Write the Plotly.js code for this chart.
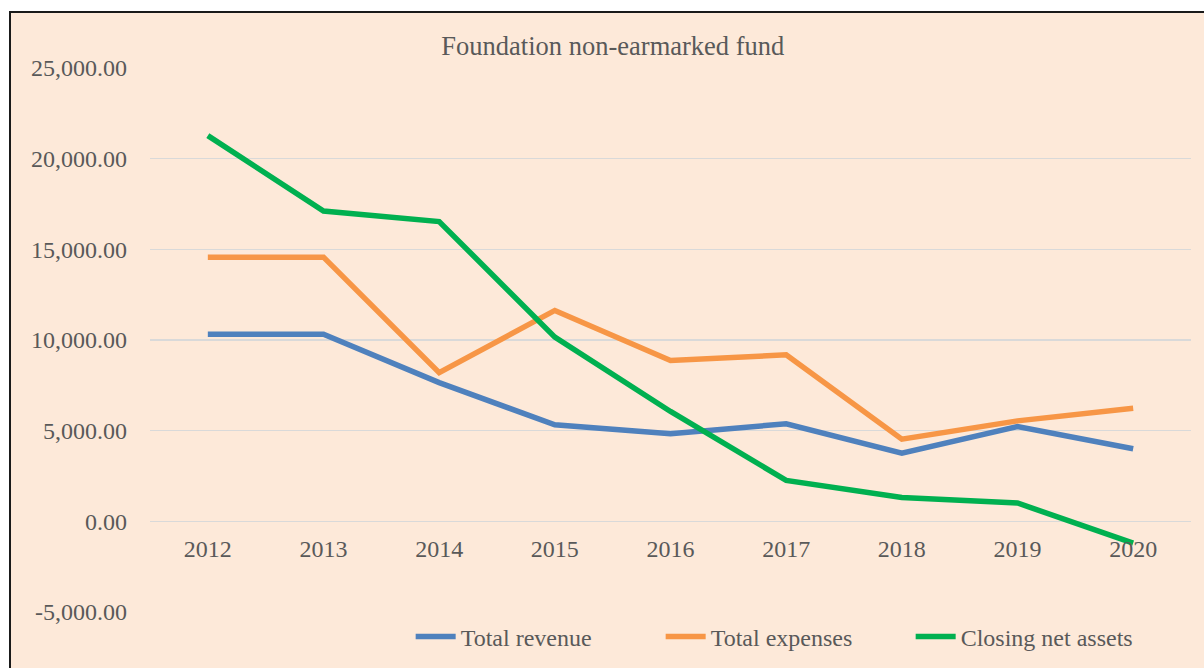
<!DOCTYPE html>
<html>
<head>
<meta charset="utf-8">
<script src="https://cdn.plot.ly/plotly-3.0.1.min.js"></script>
<style>
html,body{margin:0;padding:0;background:#ffffff;}
#chart{width:1204px;height:668px;}
</style>
</head>
<body>
<div id="chart"></div>
<script>
const years = ['2012','2013','2014','2015','2016','2017','2018','2019','2020'];
const totalRevenue = [10320, 10320, 7650, 5320, 4830, 5380, 3760, 5230, 4000];
const totalExpenses = [14570, 14570, 8200, 11630, 8870, 9180, 4530, 5540, 6240];
const closingNetAssets = [21270, 17110, 16530, 10160, 6060, 2260, 1320, 1010, -1200];
const seriesNames = ['Total revenue', 'Total expenses', 'Closing net assets'];
const yTickVals = [-5000, 0, 5000, 10000, 15000, 20000, 25000];
const yTickText = ['-5,000.00', '0.00', '5,000.00', '10,000.00', '15,000.00', '20,000.00', '25,000.00'];

const fontFam = '"Liberation Serif", "Times New Roman", serif';
const textColor = '#595959';

const mk = (y, name, color) => ({
  x: years, y: y, name: name, type: 'scatter', mode: 'lines',
  line: {color: color, width: 5.5}
});

const data = [
  mk(totalRevenue, seriesNames[0], '#4F81BD'),
  mk(totalExpenses, seriesNames[1], '#F79646'),
  mk(closingNetAssets, seriesNames[2], '#00B050')
];

const layout = {
  width: 1204, height: 668,
  margin: {l: 150, r: 13, t: 68, b: 56, autoexpand: false},
  paper_bgcolor: '#ffffff',
  plot_bgcolor: 'rgba(0,0,0,0)',
  font: {family: fontFam, color: textColor, size: 24},
  title: {text: 'Foundation non-earmarked fund', x: 0.509, xanchor: 'center', y: 0.931, yanchor: 'middle',
          font: {family: fontFam, size: 26.5, color: textColor}},
  xaxis: {
    type: 'category', range: [-0.5, 8.5],
    anchor: 'free', position: 1/6,
    showgrid: false, zeroline: false, showline: false,
    ticks: '', ticklabelstandoff: 11,
    tickfont: {family: fontFam, size: 24, color: textColor}
  },
  yaxis: {
    range: [-5000, 25000], tickvals: yTickVals, ticktext: yTickText,
    showgrid: true, gridcolor: '#D9D9D9', gridwidth: 1.5,
    zeroline: true, zerolinecolor: '#D9D9D9', zerolinewidth: 1.5,
    showline: false, ticks: '', ticklabelstandoff: 22,
    tickfont: {family: fontFam, size: 24, color: textColor}
  },
  showlegend: true,
  legend: {
    orientation: 'h', x: 0.2504, xanchor: 'left', y: -0.046, yanchor: 'middle',
    bgcolor: 'rgba(0,0,0,0)', font: {family: fontFam, size: 24, color: textColor},
    itemwidth: 40, traceorder: 'normal', entrywidth: 195, entrywidthmode: 'pixels'
  },
  shapes: [{
    type: 'rect', xref: 'paper', yref: 'paper', layer: 'below',
    x0: (10 - 150) / 1041, x1: 1.2, y0: -0.3, y1: (612 - 12) / 544,
    fillcolor: '#FDE9D9', line: {color: '#1a1a1a', width: 2}
  }]
};

Plotly.newPlot('chart', data, layout, {displayModeBar: false, staticPlot: true});
</script>
</body>
</html>
